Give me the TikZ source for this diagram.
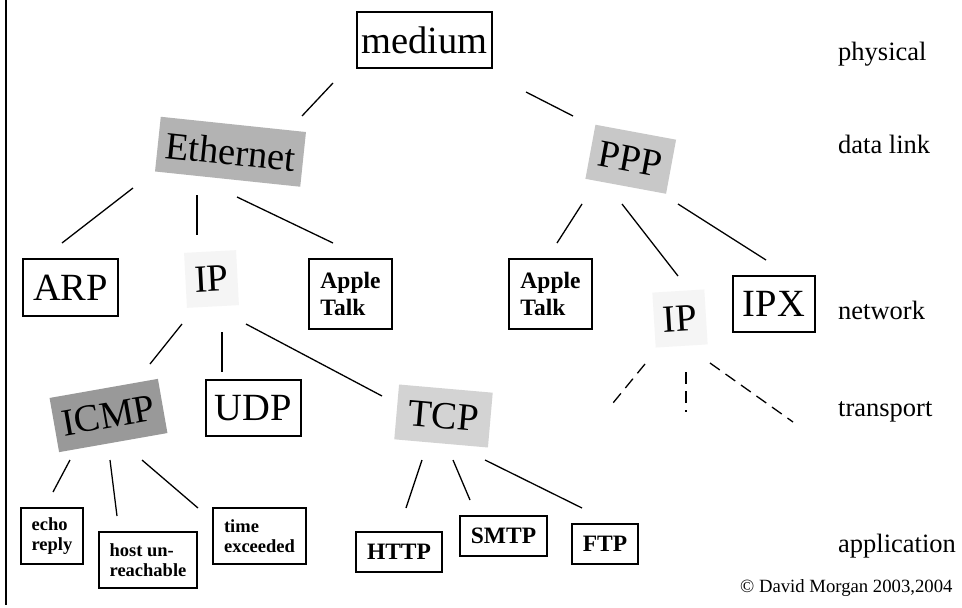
\documentclass[tikz,border=0pt]{standalone}
\usepackage{fontspec}
\setmainfont{Liberation Serif}
\begin{document}
\begin{tikzpicture}[x=1pt,y=-1pt,
  box/.style={draw,line width=1.3pt,inner sep=0pt,align=center},
  shade/.style={inner sep=0pt,align=center},
  big/.style={font=\fontsize{38.5}{42}\selectfont},
  sbold/.style={font=\fontsize{23.5}{27.5}\selectfont\bfseries},
  tbold/.style={font=\fontsize{18.5}{20.5}\selectfont\bfseries},
  layer/.style={anchor=base west,inner sep=0pt,font=\fontsize{26.5}{30}\selectfont},
  conn/.style={line width=1.3pt},
  dconn/.style={line width=1.3pt,dash pattern=on 12pt off 7pt}]
\useasboundingbox (0,0) rectangle (962,608);
\fill[white] (0,0) rectangle (962,608);
\draw[line width=2.8pt] (6,0) -- (6,605);
% nodes
\node[box,big,minimum width=135,minimum height=56] (medium) at (424.5,40) {medium};
\node[shade,big,fill={rgb,255:red,179;green,179;blue,179},minimum width=146,minimum height=55,rotate=-6] (eth) at (230.5,151.75) {Ethernet};
\node[shade,big,fill={rgb,255:red,200;green,200;blue,200},minimum width=82,minimum height=55,rotate=-10.5] (ppp) at (630.75,159.25) {PPP};
\node[box,big,minimum width=95,minimum height=57] (arp) at (70.5,287.5) {ARP};
\node[shade,big,fill={rgb,255:red,245;green,245;blue,245},minimum width=52,minimum height=55,rotate=3] (ipa) at (211.5,279) {IP};
\node[box,sbold,align=left,minimum width=83,minimum height=70] (ata) at (350.5,294) {Apple\\Talk};
\node[box,sbold,align=left,minimum width=83,minimum height=70] (atb) at (550.5,294) {Apple\\Talk};
\node[shade,big,fill={rgb,255:red,245;green,245;blue,245},minimum width=52,minimum height=55,rotate=3.5] (ipb) at (680,318.5) {IP};
\node[box,big,minimum width=82,minimum height=56] (ipx) at (774,304) {IPX};
\node[shade,big,fill={rgb,255:red,153;green,153;blue,153},minimum width=110,minimum height=55,rotate=10] (icmp) at (108.5,415.5) {ICMP};
\node[box,big,minimum width=95,minimum height=56] (udp) at (253.5,408) {UDP};
\node[shade,big,fill={rgb,255:red,211;green,211;blue,211},minimum width=94,minimum height=55,rotate=-5] (tcp) at (443.5,416) {TCP};
\node[box,tbold,align=left,minimum width=62,minimum height=56] (echo) at (52,536) {echo\\reply};
\node[box,tbold,align=left,minimum width=98,minimum height=56] (host) at (148,560) {host un-\\reachable};
\node[box,tbold,align=left,minimum width=93,minimum height=56] (time) at (259.5,536) {time\\exceeded};
\node[box,sbold,minimum width=86,minimum height=40] (http) at (399,552) {HTTP};
\node[box,sbold,minimum width=87,minimum height=40] (smtp) at (503.5,536) {SMTP};
\node[box,sbold,minimum width=66,minimum height=40] (ftp) at (605,544) {FTP};
% layer labels
\node[layer] (lphys) at (838,60) {physical};
\node[layer] (ldl) at (838,153) {data link};
\node[layer] (lnet) at (838,319) {network};
\node[layer] (ltr) at (838,416) {transport};
\node[layer] (lapp) at (838,552) {application};
\node[anchor=base west,inner sep=0pt,font=\fontsize{18.7}{21}\selectfont] (copy) at (740,592) {\textcopyright\ David Morgan 2003,2004};
% connector end points
\coordinate (c1a) at (333,83);  \coordinate (c1b) at (302,116);
\coordinate (c2a) at (526,92);  \coordinate (c2b) at (573,116);
\coordinate (c3a) at (133,188); \coordinate (c3b) at (62,243);
\coordinate (c4a) at (197,195); \coordinate (c4b) at (197,235);
\coordinate (c5a) at (237,197); \coordinate (c5b) at (333,243);
\coordinate (c6a) at (582,204); \coordinate (c6b) at (557,243);
\coordinate (c7a) at (622,204); \coordinate (c7b) at (678,276);
\coordinate (c8a) at (678,204); \coordinate (c8b) at (766,260);
\coordinate (c9a) at (182,324); \coordinate (c9b) at (150,364);
\coordinate (c10a) at (222,332); \coordinate (c10b) at (222,372);
\coordinate (c11a) at (246,324); \coordinate (c11b) at (382,396);
\coordinate (d1a) at (645,364); \coordinate (d1b) at (613,403);
\coordinate (d2a) at (686,372); \coordinate (d2b) at (686,412);
\coordinate (d3a) at (710,363); \coordinate (d3b) at (793,422);
\coordinate (c12a) at (70,460);  \coordinate (c12b) at (53,492);
\coordinate (c13a) at (110,460); \coordinate (c13b) at (117,516);
\coordinate (c14a) at (142,460); \coordinate (c14b) at (198,508);
\coordinate (c15a) at (422,460); \coordinate (c15b) at (406,508);
\coordinate (c16a) at (453,460); \coordinate (c16b) at (470,500);
\coordinate (c17a) at (485,460); \coordinate (c17b) at (582,508);
% connectors
\foreach \c in {1,...,17} {\draw[conn] (c\c a) -- (c\c b);}
\foreach \c in {1,2,3} {\draw[dconn] (d\c a) -- (d\c b);}
\end{tikzpicture}
\end{document}
